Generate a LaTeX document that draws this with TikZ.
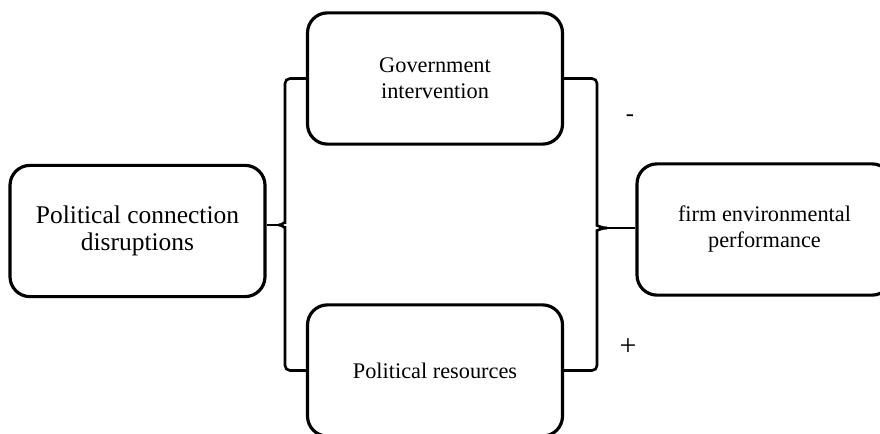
\documentclass[tikz,border=0pt]{standalone}
\usepackage{fontspec}
\setmainfont{Liberation Serif}
\usepackage{tikz}
\tikzset{
  box/.style={draw, rounded corners=0.8cm, line width=3.6pt, minimum width=10.2cm, minimum height=5.25cm, align=center, inner sep=0pt, font=\fontsize{25.4}{29.6}\selectfont},
  bigbox/.style={box, font=\fontsize{29}{30.7}\selectfont},
  bracket/.style={line width=3pt},
  sign/.style={font=\fontsize{28}{28}\selectfont}
}

\begin{document}
\begin{tikzpicture}
  \clip (0,0) rectangle (35.2,17.32);
  \node[bigbox] (pcd) at (5.5,8.08) {Political connection\\disruptions};
  \node[box] (gov) at (17.4,14.18) {Government\\intervention};
  \node[box] (res) at (17.4,2.5) {Political resources};
  \node[box] (fep) at (30.58,8.14) {firm environmental\\performance};
  \coordinate (lbar) at (11.4,8.32);
  \coordinate (ltip) at ([xshift=-0.25cm]lbar);
  \coordinate (rbar) at (23.88,8.2);
  \coordinate (rtip) at ([xshift=0.4cm]rbar);
  \draw[bracket] (gov.west) [rounded corners=0.2cm] -| ([yshift=0.3cm]lbar) [sharp corners] to[out=-90,in=0] (ltip);
  \draw[bracket] (res.west) [rounded corners=0.2cm] -| ([yshift=-0.3cm]lbar) [sharp corners] to[out=90,in=0] (ltip);
  \draw[bracket] (pcd.east |- ltip) -- (ltip);
  \draw[bracket] (gov.east) [rounded corners=0.2cm] -| ([yshift=0.3cm]rbar) [sharp corners] to[out=-90,in=180] (rtip);
  \draw[bracket] (res.east) [rounded corners=0.2cm] -| ([yshift=-0.3cm]rbar) [sharp corners] to[out=90,in=180] (rtip);
  \draw[bracket] (rtip) -- (rtip -| fep.west);
  \node[sign] (minus) at (25.2,12.6) {-};
  \node[sign, font=\fontsize{34}{34}\selectfont] (plus) at (25.12,3.44) {+};
\end{tikzpicture}
\end{document}
